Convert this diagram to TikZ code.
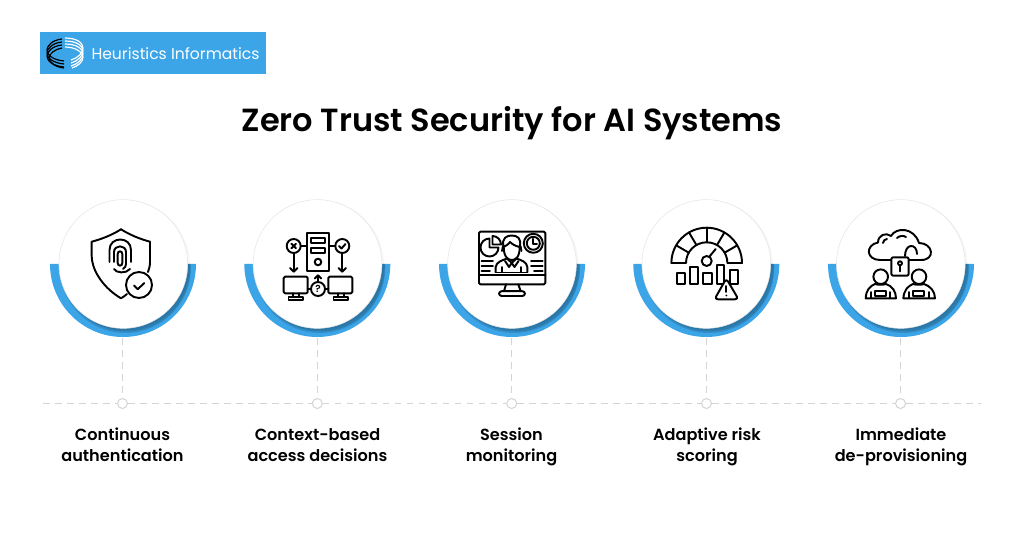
\documentclass[tikz,border=0pt]{standalone}
\usepackage{fontspec}
\setmainfont{Poppins}
\newfontfamily\semibold{Poppins SemiBold}
\definecolor{ringblue}{RGB}{59,165,232}
\definecolor{lineGrey}{RGB}{212,212,212}
\tikzset{every picture/.style={line width=0.75pt}}
\tikzset{
	ringfill/.style={fill=ringblue,draw=none},
	ringshadow/.style={fill=black,draw=none,opacity=0.13},
	softshadow/.style={fill=black,draw=none,opacity=0.035},
	discnode/.style={circle,fill=white,draw=black!10,line width=0.4pt,minimum size=96.5pt,inner sep=0pt},
	dotnode/.style={circle,fill=white,draw=lineGrey,line width=0.75pt,minimum size=7.5pt,inner sep=0pt},
	dashline/.style={draw=lineGrey,line width=0.75pt,dash pattern=on 5pt off 4pt},
	captionnode/.style={font=\semibold\fontsize{12.1}{15.75}\selectfont,align=center,text=black},
	iconline/.style={draw=black,line width=1.45pt,line cap=round,line join=round},
	logoblack/.style={draw=black,line width=0.9pt},
	logowhite/.style={draw=white,line width=0.9pt}
}

\begin{document}
\begin{tikzpicture}[x=0.75pt,y=0.75pt,yscale=-1,xscale=1]
	\useasboundingbox (0,0) rectangle (1024,541);
	
	%Shape: Logo plate
	\fill [ringblue] (40,32) rectangle (266,74);
	\draw [logoblack] (62,39) .. controls (52,40) and (47,46) .. (47,50) .. controls (47,55) and (53,60) .. (64,61);
	\draw [logoblack] (62,42) .. controls (52,43) and (47,49) .. (47,53) .. controls (47,58) and (53,63) .. (64,64);
	\draw [logoblack] (62,45) .. controls (52,46) and (47,52) .. (47,56) .. controls (47,61) and (53,66) .. (64,67);
	\draw [logoblack] (62,48) .. controls (55,49) and (49,54) .. (49,58) .. controls (50,63) and (55,67) .. (64,68);
	\draw [logowhite] (65,38) .. controls (77,38) and (83,43) .. (83,48) .. controls (83,53) and (78,58) .. (71,60);
	\draw [logowhite] (65,41) .. controls (77,41) and (83,46) .. (83,51) .. controls (83,56) and (78,61) .. (71,63);
	\draw [logowhite] (65,44) .. controls (77,44) and (83,49) .. (83,54) .. controls (83,59) and (78,64) .. (71,66);
	\draw [logowhite] (65,47) .. controls (75,47) and (83,52) .. (83,57) .. controls (83,62) and (78,66) .. (72,68);
	% Text Node
	\node [anchor=west,inner sep=0pt,text=white,font=\fontsize{11.7}{14}\selectfont] (logotext) at (91,53.5) {Heuristics Informatics};
	% Text Node
	\node [font=\semibold\fontsize{24}{30}\selectfont] (title) at (512,123.5) {Zero Trust Security for AI Systems};
	
	%Shape: Half rings
	\fill [ringfill] (50,264) arc[start angle=180,end angle=0,radius=73] -- cycle;
	\fill [ringfill] (244.3,264) arc[start angle=180,end angle=0,radius=73] -- cycle;
	\fill [ringfill] (439,264) arc[start angle=180,end angle=0,radius=73] -- cycle;
	\fill [ringfill] (633.3,264) arc[start angle=180,end angle=0,radius=73] -- cycle;
	\fill [ringfill] (828,264) arc[start angle=180,end angle=0,radius=73] -- cycle;
	
	%Shape: Disc shadows, on the rings only
	\begin{scope}
		\clip (50,264) arc[start angle=180,end angle=0,radius=73] -- cycle;
		\fill [ringshadow] (125.5,267.5) circle[radius=65.5];
		\fill [ringshadow] (126,267) circle[radius=64.5];
	\end{scope}
	\begin{scope}
		\clip (244.3,264) arc[start angle=180,end angle=0,radius=73] -- cycle;
		\fill [ringshadow] (319.8,267.5) circle[radius=65.5];
		\fill [ringshadow] (320.3,267) circle[radius=64.5];
	\end{scope}
	\begin{scope}
		\clip (439,264) arc[start angle=180,end angle=0,radius=73] -- cycle;
		\fill [ringshadow] (514.5,267.5) circle[radius=65.5];
		\fill [ringshadow] (515,267) circle[radius=64.5];
	\end{scope}
	\begin{scope}
		\clip (633.3,264) arc[start angle=180,end angle=0,radius=73] -- cycle;
		\fill [ringshadow] (708.8,267.5) circle[radius=65.5];
		\fill [ringshadow] (709.3,267) circle[radius=64.5];
	\end{scope}
	\begin{scope}
		\clip (828,264) arc[start angle=180,end angle=0,radius=73] -- cycle;
		\fill [ringshadow] (903.5,267.5) circle[radius=65.5];
		\fill [ringshadow] (904,267) circle[radius=64.5];
	\end{scope}
	\fill [softshadow] (124.8,265) circle[radius=65];
	\fill [softshadow] (319,265) circle[radius=65];
	\fill [softshadow] (513.5,265) circle[radius=65];
	\fill [softshadow] (707.8,265) circle[radius=65];
	\fill [softshadow] (902.3,265) circle[radius=65];
	
	%Shape: Discs and anchors for the rings
	\node [discnode] (disc1) at (123.3,264) {};
	\node [discnode] (disc2) at (317.5,264) {};
	\node [discnode] (disc3) at (512,264) {};
	\node [discnode] (disc4) at (706.3,264) {};
	\node [discnode] (disc5) at (900.8,264) {};
	\coordinate (ring1) at (122.5,338);
	\coordinate (ring2) at (317.3,338);
	\coordinate (ring3) at (511.7,338);
	\coordinate (ring4) at (706.5,338);
	\coordinate (ring5) at (900.5,338);
	
	%Shape: Timeline dots
	\node [dotnode] (dot1) at (122.5,403.5) {};
	\node [dotnode] (dot2) at (317.3,403.5) {};
	\node [dotnode] (dot3) at (511.7,403.5) {};
	\node [dotnode] (dot4) at (706.5,403.5) {};
	\node [dotnode] (dot5) at (900.5,403.5) {};
	\coordinate (lineStart) at (43,403.5);
	\coordinate (lineEnd) at (981,403.5);
	
	%Straight Lines
	\draw [dashline] (lineStart) -- (dot1);
	\draw [dashline] (dot1) -- (dot2);
	\draw [dashline] (dot2) -- (dot3);
	\draw [dashline] (dot3) -- (dot4);
	\draw [dashline] (dot4) -- (dot5);
	\draw [dashline] (dot5) -- (lineEnd);
	\draw [dashline] (ring1) -- (dot1);
	\draw [dashline] (ring2) -- (dot2);
	\draw [dashline] (ring3) -- (dot3);
	\draw [dashline] (ring4) -- (dot4);
	\draw [dashline] (ring5) -- (dot5);
	
	% Text Node
	\node [captionnode] (caption1) at (122.5,445) {Continuous\\authentication};
	\node [captionnode] (caption2) at (317.5,445) {Context-based\\access decisions};
	\node [captionnode] (caption3) at (511.5,447) {Session\\monitoring};
	\node [captionnode] (caption4) at (707,447) {Adaptive risk\\scoring};
	\node [captionnode] (caption5) at (901,447) {Immediate\\de-provisioning};
	
	%Shape: Shield icon
	\draw [iconline] (121,229.3) .. controls (112,235) and (102,239) .. (91.7,241.7) -- (91.7,256) .. controls (92,272) and (105,289) .. (121,298.3) .. controls (123,297) and (125,296) .. (127,294);
	\draw [iconline] (121,229.3) .. controls (130,235) and (140,239) .. (150,241.7) -- (150,262) .. controls (150,266) and (149,269) .. (148,272);
	\draw [iconline] (117.7,254) .. controls (117.7,250.5) and (122.3,250.5) .. (122.3,254) -- (122.3,263) .. controls (122.3,266.5) and (117.7,266.5) .. (117.7,263) -- cycle;
	\draw [iconline] (114,262) -- (114,252) .. controls (114,244.5) and (126,244.5) .. (126,252) -- (126,264) .. controls (126,266) and (125,268) .. (123,269);
	\draw [iconline] (109.5,262) -- (109.5,250) .. controls (109.5,236) and (131,236) .. (131,250) -- (131,262);
	\draw [iconline] (114,269) .. controls (116,273) and (126,274) .. (130,269);
	\draw [iconline,fill=white] (139,285) circle[radius=13];
	\draw [iconline] (134,285.5) -- (137.7,289.3) -- (144.3,283);
	
	%Shape: Access icon
	\draw [iconline] (307,233.3) rectangle (329,270.7);
	\draw [iconline] (311,238.3) rectangle (325,243.3);
	\draw [iconline] (311,247.7) rectangle (325,252.7);
	\draw [iconline] (318,262) circle[radius=3.3];
	\draw [iconline] (293.7,246) circle[radius=7];
	\draw [iconline] (342.3,246) circle[radius=7];
	\draw [iconline] (300.7,246) -- (307,246);
	\draw [iconline] (329,246) -- (335.3,246);
	\draw [iconline] (291.4,243.7) -- (296,248.3);
	\draw [iconline] (296,243.7) -- (291.4,248.3);
	\draw [iconline] (339,246) -- (341.5,248.5) -- (345.5,244);
	\draw [iconline] (293.7,253) -- (293.7,271.5);
	\draw [iconline] (290,268) -- (293.7,271.7) -- (297.4,268);
	\draw [iconline] (342.3,253) -- (342.3,271.5);
	\draw [iconline] (338.6,268) -- (342.3,271.7) -- (346,268);
	\draw [iconline,rounded corners=1pt] (283.7,276.7) rectangle (307.7,293.3);
	\draw [iconline,rounded corners=1pt] (328.3,276.7) rectangle (352.3,293.3);
	\draw [iconline] (293,293.3) -- (293,297) (299,293.3) -- (299,297);
	\draw [iconline] (338,293.3) -- (338,297) (344,293.3) -- (344,297);
	\draw [iconline] (288.5,297) rectangle (303,300);
	\draw [iconline] (333.5,297) rectangle (348,300);
	\draw [iconline] (318,289) circle[radius=7];
	\draw [iconline] (307.7,289) -- (311,289);
	\draw [iconline] (325,289) -- (328.3,289);
	\draw [iconline] (318,282) -- (318,275.5);
	\draw [iconline] (314.8,278.5) -- (318,275.3) -- (321.2,278.5);
	\node [inner sep=0pt,font=\semibold\fontsize{7.5}{8}\selectfont] (askmark) at (318,289) {?};
	
	%Shape: Monitor icon
	\draw [iconline,rounded corners=1pt] (479,231.7) rectangle (545.3,284.3);
	\draw [iconline] (479,275) -- (545.3,275);
	\draw [iconline] (506,284.3) -- (504,291.2);
	\draw [iconline] (518.3,284.3) -- (520.7,291.2);
	\draw [iconline,rounded corners=2pt] (499,291.2) rectangle (525,296);
	\draw [iconline] (489.5,238.5) arc[start angle=-90,end angle=-360,radius=9] -- (489.5,247.5) -- cycle;
	\draw [iconline] (492.5,236) arc[start angle=-90,end angle=0,radius=8.5] -- (492.5,244.5) -- cycle;
	\draw [iconline] (533.3,243.3) circle[radius=9.5];
	\draw [iconline] (533.3,243.3) circle[radius=6.5];
	\draw [iconline] (533.3,238.8) -- (533.3,244) -- (537,244);
	\draw [iconline] (503.7,247) .. controls (503.7,258) and (509,260) .. (511.7,260) .. controls (515,260) and (519.7,258) .. (519.7,247);
	\draw [iconline] (503.7,247) .. controls (501,238) and (507,235.5) .. (511.7,235.5) .. controls (517,235.5) and (522,238) .. (519.7,247) .. controls (515,246) and (512,244) .. (510,242) .. controls (508,245) and (505,246) .. (503.7,247);
	\draw [iconline] (503,246) -- (502,251);
	\draw [iconline] (520.5,246) -- (521.5,251);
	\draw [iconline] (495.7,272) -- (495.7,267) .. controls (496,262) and (503,260) .. (507,258.5) -- (511.7,263) -- (516.5,258.5) .. controls (521,260) and (527,262) .. (527.3,267) -- (527.3,272);
	\draw [iconline] (495.7,272.5) -- (527.3,272.5);
	\draw [iconline] (511.7,263) -- (509,267) -- (505,261);
	\draw [iconline] (511.7,263) -- (514.5,267) -- (518.5,261);
	\draw [iconline] (502,267) -- (502,272);
	\draw [iconline] (521,267) -- (521,272);
	\draw [iconline] (481.7,260.7) -- (493,260.7);
	\draw [iconline] (481.7,266) -- (493,266);
	\draw [iconline] (481.7,271) -- (490,271);
	\draw [iconline] (531,260.7) -- (542.7,260.7);
	\draw [iconline] (531,266) -- (542.7,266);
	\draw [iconline] (534,271) -- (542.7,271);
	
	%Shape: Gauge icon
	\draw [iconline] (671.4,263) arc[start angle=180,end angle=360,radius=35.3] -- (727.4,263) arc[start angle=360,end angle=180,radius=20.7] -- cycle;
	\draw [iconline] (706.7,227.7) -- (706.7,242.3);
	\draw [iconline] (689,232.5) -- (696.4,245);
	\draw [iconline] (724.4,232.5) -- (717,245);
	\draw [iconline] (676.1,245.3) -- (688.8,252.7);
	\draw [iconline] (737.3,245.3) -- (724.6,252.7);
	\draw [iconline] (706.7,261) circle[radius=5];
	\draw [iconline] (709.5,256.5) -- (715.7,249);
	\draw [iconline] (676.7,273.3) rectangle (685,284);
	\draw [iconline] (690,266.7) rectangle (698.3,284);
	\draw [iconline] (703.3,273.3) rectangle (711.7,284);
	\draw [iconline] (716.7,265) rectangle (724.3,284);
	\draw [iconline] (730,270) rectangle (737.7,284);
	\draw [iconline,fill=white,rounded corners=2.5pt] (726.3,278.5) -- (738.5,299.3) -- (714.5,299.3) -- cycle;
	\draw [iconline] (726.3,286) -- (726.3,292);
	\fill (726.3,295.5) circle[radius=1];
	
	%Shape: Cloud icon
	\draw [iconline] (891,260) -- (880,260) .. controls (866,260) and (865,245) .. (878,242.5) .. controls (878,235) and (886,232) .. (891,236) .. controls (896,227) and (914,227) .. (919,243) .. controls (933,243) and (936,260) .. (921,260) -- (909,260);
	\draw [iconline] (905,256) .. controls (905,243) and (917,243) .. (917,254);
	\draw [iconline] (883,243) .. controls (883,241) and (885,239) .. (887,239);
	\draw [iconline] (897,238) .. controls (899,236) and (903,235) .. (906,237);
	\draw [iconline,rounded corners=1.5pt] (891.3,257.3) rectangle (908.7,275.7);
	\draw [iconline] (900,263.3) circle[radius=2];
	\draw [iconline] (900,265.3) -- (900,271.5);
	\draw [iconline] (880.7,276.7) circle[radius=7.3];
	\draw [iconline] (919,276.7) circle[radius=7.3];
	\draw [iconline] (865.7,298.3) .. controls (866,290) and (870,286) .. (875,284) .. controls (878,285) and (883,285) .. (886,284) .. controls (892,286) and (896,291) .. (896,298.3) -- cycle;
	\draw [iconline] (903.3,298.3) .. controls (904,290) and (908,286) .. (913,284) .. controls (916,285) and (921,285) .. (924,284) .. controls (930,286) and (935,291) .. (935,298.3) -- cycle;
	\draw [iconline] (875,291) rectangle (886,295.7);
	\draw [iconline] (913,291) rectangle (924,295.7);
	\draw [iconline] (871,298) -- (871,292);
	\draw [iconline] (890,298) -- (890,292);
	\draw [iconline] (909,298) -- (909,292);
	\draw [iconline] (929,298) -- (929,292);
	
\end{tikzpicture}
\end{document}
